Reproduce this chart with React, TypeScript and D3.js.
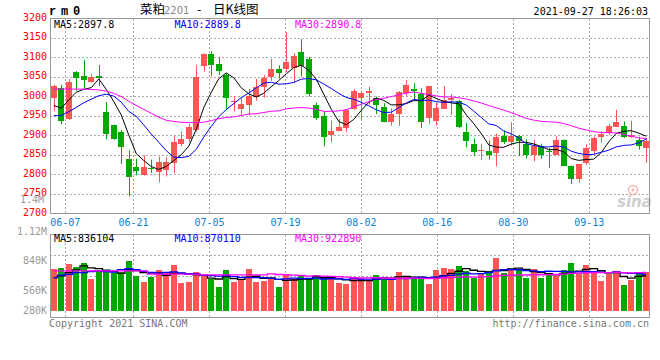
import React from "react";
import * as d3 from "d3";

// ---------- data ----------
const dates = [
  "06-03","06-04","06-07","06-08","06-09","06-10","06-11","06-15","06-16","06-17",
  "06-18","06-21","06-22","06-23","06-24","06-25","06-28","06-29","06-30","07-01",
  "07-02","07-05","07-06","07-07","07-08","07-09","07-12","07-13","07-14","07-15",
  "07-16","07-19","07-20","07-21","07-22","07-23","07-26","07-27","07-28","07-29",
  "07-30","08-02","08-03","08-04","08-05","08-06","08-09","08-10","08-11","08-12",
  "08-13","08-16","08-17","08-18","08-19","08-20","08-23","08-24","08-25","08-26",
  "08-27","08-30","08-31","09-01","09-02","09-03","09-06","09-07","09-08","09-09",
  "09-10","09-13","09-14","09-15","09-16","09-17","09-22","09-23","09-24","09-27",
];
const tickDates = ["06-07","06-21","07-05","07-19","08-02","08-16","08-30","09-13"];

const opens = [
  2997,3021,2943,3062,3053,3038,3052,2960,2927,2908,
  2840,2820,2800,2817,2806,2812,2830,2879,2892,2913,
  3079,3110,3083,3055,2985,2968,2977,3000,3025,3050,
  3070,3070,3074,3114,3097,2977,2951,2901,2912,2919,
  2968,2995,3010,2996,2973,2934,2956,3008,3019,3006,
  2946,2938,2968,2992,2989,2908,2877,2860,2860,2855,
  2900,2884,2900,2878,2850,2873,2860,2851,2889,2823,
  2788,2830,2861,2895,2906,2923,2924,2896,2889,2868,
];
const highs = [
  3030,3030,3045,3065,3094,3058,3081,2986,2928,2914,
  2862,2840,2849,2838,2846,2844,2900,2910,2930,3081,
  3111,3116,3101,3059,3000,2997,3019,3045,3055,3097,
  3080,3164,3111,3147,3102,2985,2962,2938,2943,2968,
  3018,3014,3025,3000,2983,2970,3014,3042,3034,3021,
  3027,2985,3027,3006,2991,2932,2892,2879,2887,2905,
  2913,2934,2902,2890,2889,2879,2868,2898,2890,2823,
  2826,2877,2898,2911,2929,2966,2936,2938,2897,2894,
];
const lows = [
  2963,2929,2940,3015,3021,3036,3027,2890,2889,2827,
  2744,2798,2797,2804,2780,2795,2804,2872,2883,2910,
  3064,3052,3055,2966,2962,2951,2951,2989,2997,3040,
  3046,3063,3034,3051,3000,2940,2872,2883,2911,2909,
  2966,2940,2979,2955,2934,2925,2925,3000,2991,2919,
  2929,2926,2968,2953,2919,2870,2847,2837,2838,2821,
  2878,2874,2847,2841,2834,2840,2817,2851,2821,2776,
  2779,2824,2851,2881,2902,2923,2894,2894,2864,2830,
];
const closes = [
  3028,2936,3038,3048,3042,3049,3048,2905,2891,2870,
  2793,2808,2818,2813,2833,2831,2884,2892,2923,3050,
  3109,3080,3066,2997,2988,2981,3002,3024,3048,3070,
  3061,3088,3103,3078,3007,2946,2895,2911,2921,2965,
  3014,3010,3014,2977,2935,2956,3012,3029,3015,2934,
  3027,2970,2991,2996,2923,2885,2857,2864,2850,2895,
  2883,2898,2887,2850,2874,2850,2857,2889,2821,2788,
  2826,2868,2894,2905,2925,2935,2895,2902,2874,2885,
];
const volumes = [
  1005000,1036000,1133000,1053000,1157000,764000,957000,933000,901000,940000,
  1205000,844000,699000,819000,981000,916000,1101000,675000,699000,940000,
  836000,757000,578000,981000,699000,757000,1005000,699000,716000,757000,
  578000,884000,757000,836000,757000,860000,781000,757000,675000,643000,
  757000,788000,740000,860000,795000,740000,933000,805000,757000,805000,
  643000,981000,1029000,1012000,1077000,964000,781000,884000,957000,1270000,
  916000,998000,981000,795000,1005000,788000,884000,836000,981000,1150000,
  901000,1101000,933000,716000,884000,957000,619000,740000,933000,933000,
];

// moving averages before the window is complete
const ma5Head = [2977, 2970, 2991, 3011];
const ma10Head = [2951, 2951, 2961, 2972, 2984, 2993, 3002, 3006, 3001];
const ma30Head = [
  3019,3019,3019,3019,3019,3018,3017,3014,3008,3000,
  2988,2977,2967,2957,2947,2939,2936,2934,2933,2933,
  2934,2938,2943,2946,2948,2951,2955,2956,2959,
];
const vma5Head = [795000, 836000, 916000, 981000];
const vma10Head = [795000, 853000, 874000, 916000, 916000, 940000, 957000, 940000, 925000];
const vma30Head = [
  957000,957000,957000,957000,957000,957000,957000,957000,957000,957000,
  957000,957000,957000,880000,880000,880000,880000,880000,880000,880000,
  860000,860000,860000,860000,860000,860000,860000,860000,860000,
];

const priceTicks = [3200,3150,3100,3050,3000,2950,2900,2850,2800,2750,2700];
const volTickLabels = ["1.12M", "840K", "560K", "280K"];
const priceMaLabels = ["MA5:2897.8", "MA10:2889.8", "MA30:2890.8"];
const volMaLabels = ["MA5:836104", "MA10:870110", "MA30:922890"];
const titleParts = ["菜粕", "2201", "-", "日K线图"];
const symbol = "rm0";
const stamp = "2021-09-27 18:26:03";

// ---------- helpers ----------
function movingAvg(vals: number[], n: number, head: number[]) {
  return vals.map((_, i) =>
    i < n - 1 ? head[i] : (d3.mean(vals.slice(i - n + 1, i + 1)) as number)
  );
}

const RED = "#ff5555";
const GREEN = "#00a800";
const MA_COLORS = ["#000000", "#0000ff", "#ff00ff"];
const FONT = "'DejaVu Sans Mono', monospace";
const CJK = "'Noto Sans CJK SC', sans-serif";

export default function App() {
  const n = closes.length;
  const L = 50, R = 650;
  const T = 18.5, B = 213.5;
  const VT = 234.5, VB = 317.5, VBase = 310.7;

  const idx = d3.range(n);
  const x = d3.scaleBand<number>().domain(idx).range([L, R]);
  const xg = d3.scalePoint<number>().domain(idx).range([L, R]);
  const bw = x.bandwidth();
  const cx = (i: number) => (x(i) as number) + bw / 2;
  const y = d3.scaleLinear().domain([2700, 3200]).range([B, T]);
  const yv = d3.scaleLinear().domain([0, 1831600]).range([VBase, VT]);
  const vGrid = d3.scaleLinear().domain([0, 4]).range([VT, VB]);

  const ma = [
    movingAvg(closes, 5, ma5Head),
    movingAvg(closes, 10, ma10Head),
    movingAvg(closes, 30, ma30Head),
  ];
  const vma = [
    movingAvg(volumes, 5, vma5Head),
    movingAvg(volumes, 10, vma10Head),
    movingAvg(volumes, 30, vma30Head),
  ];

  const priceLine = d3.line<number>().x((_, i) => cx(i)).y((d) => y(d));
  const volLine = d3
    .line<number>()
    .x((_, i) => cx(i))
    .y((d) => yv(d))
    .curve(d3.curveStep);

  const color = (i: number) => (closes[i] >= opens[i] ? RED : GREEN);
  const tickIdx = tickDates.map((d) => dates.indexOf(d));
  const bodyW = 5.6;
  const gridStyle = { stroke: "#aaaaaa", strokeWidth: 1, strokeDasharray: "2,2" };

  const volLabelY = [VT, vGrid(1) + 9, vGrid(3) - 2.5, VB - 3.5];

  return (
    <div style={{ position: "fixed", left: 0, top: 0 }}>
      <svg width={660} height={360} style={{ display: "block", background: "#fff" }}>
        {/* header */}
        <text x={49} y={15} fontFamily="'Liberation Mono', monospace" fontWeight="bold" fontSize={12} letterSpacing={4.8} fill="#000">
          {symbol}
        </text>
        <text y={14} fontSize={12.5} fontFamily={CJK} fill="#000">
          <tspan x={140}>{titleParts[0]}</tspan>
          <tspan x={164} fill="#888" fontFamily="'DejaVu Sans', sans-serif" fontSize={10}>{titleParts[1]}</tspan>
          <tspan x={197}>{titleParts[2]}</tspan>
          <tspan x={213}>{titleParts[3]}</tspan>
        </text>
        <text x={648} y={15} textAnchor="end" fontFamily={FONT} fontSize={10} fill="#000">
          {stamp}
        </text>

        {/* grids */}
        <g shapeRendering="crispEdges">
          {priceTicks.slice(1, -1).map((p) => (
            <line key={"h" + p} x1={L} x2={R} y1={y(p)} y2={y(p)} {...gridStyle} />
          ))}
          {tickIdx.map((i) => (
            <line key={"v" + i} x1={xg(i)} x2={xg(i)} y1={T} y2={B} {...gridStyle} />
          ))}
          {[1, 2, 3].map((k) => (
            <line key={"vh" + k} x1={L} x2={R} y1={vGrid(k)} y2={vGrid(k)} {...gridStyle} />
          ))}
          {tickIdx.map((i) => (
            <line key={"vv" + i} x1={xg(i)} x2={xg(i)} y1={VT} y2={VB} {...gridStyle} />
          ))}
        </g>

        {/* sina watermark */}
        <g opacity={0.8}>
          <circle cx={633} cy={190} r={4.5} fill="none" stroke="#f2a4a4" strokeWidth={1.5} />
          <circle cx={633} cy={190} r={1.5} fill="#f2a4a4" />
          <text x={617} y={207} fontFamily="'DejaVu Sans', sans-serif" fontStyle="italic" fontWeight="bold" fontSize={15} fill="#c4c4c4">
            sina
          </text>
        </g>

        {/* candles */}
        <g>
          {idx.map((i) => {
            const c = color(i);
            const top = y(Math.max(opens[i], closes[i]));
            const bot = y(Math.min(opens[i], closes[i]));
            const wx = Math.round(cx(i)) + 0.5;
            return (
              <g key={"c" + i}>
                <line x1={wx} x2={wx} y1={y(highs[i])} y2={y(lows[i])} stroke={c} strokeWidth={1} />
                <rect
                  x={cx(i) - bodyW / 2}
                  y={top}
                  width={bodyW}
                  height={Math.max(1, bot - top)}
                  fill={c}
                  shapeRendering="crispEdges"
                />
              </g>
            );
          })}
        </g>

        {/* price MAs */}
        {ma.map((m, k) => (
          <path key={"ma" + k} d={priceLine(m) as string} fill="none" stroke={MA_COLORS[k]} strokeWidth={1} />
        ))}

        {/* volume bars */}
        <g shapeRendering="crispEdges">
          {idx.map((i) => (
            <rect
              key={"v" + i}
              x={cx(i) - bodyW / 2}
              y={yv(volumes[i])}
              width={bodyW}
              height={VBase - yv(volumes[i])}
              fill={color(i)}
            />
          ))}
        </g>
        {vma.map((m, k) => (
          <path key={"vma" + k} d={volLine(m) as string} fill="none" stroke={MA_COLORS[k]} strokeWidth={1.3} />
        ))}

        {/* frames */}
        <g shapeRendering="crispEdges" fill="none" stroke="#999" strokeWidth={1}>
          <rect x={L} y={T} width={R - L - 0.5} height={B - T} />
          <rect x={L} y={VT} width={R - L - 0.5} height={VB - VT} />
        </g>

        {/* MA labels */}
        {priceMaLabels.map((s, k) => (
          <text key={"pl" + k} x={54 + k * 120.5} y={27.5} fontFamily={FONT} fontSize={10} fill={MA_COLORS[k]}>
            {s}
          </text>
        ))}
        {volMaLabels.map((s, k) => (
          <text key={"vl" + k} x={54 + k * 120.5} y={242} fontFamily={FONT} fontSize={10} fill={MA_COLORS[k]}>
            {s}
          </text>
        ))}

        {/* price axis */}
        {priceTicks.map((p) => (
          <text key={"pt" + p} x={47} y={y(p) + 2} textAnchor="end" fontFamily={FONT} fontSize={10} fill="#ff0000">
            {p}
          </text>
        ))}
        <text x={44} y={203} textAnchor="end" fontFamily={FONT} fontSize={10} fill="#999">
          1.4M
        </text>

        {/* date axis */}
        {tickIdx.map((i) => (
          <text key={"dt" + i} x={xg(i)} y={225.5} textAnchor="middle" fontFamily={FONT} fontSize={10} fill="#0a7fd8">
            {dates[i]}
          </text>
        ))}

        {/* volume axis */}
        {volTickLabels.map((s, k) => (
          <text key={"va" + k} x={47} y={volLabelY[k]} textAnchor="end" fontFamily={FONT} fontSize={10} fill="#999">
            {s}
          </text>
        ))}

        {/* footer */}
        <text x={49} y={326.5} fontFamily={FONT} fontSize={10} fill="#777">
          Copyright 2021 SINA.COM
        </text>
        <text x={649} y={326.5} textAnchor="end" fontFamily={FONT} fontSize={10} fill="#777">
          http://finance.sina.com.cn
        </text>
      </svg>
    </div>
  );
}
